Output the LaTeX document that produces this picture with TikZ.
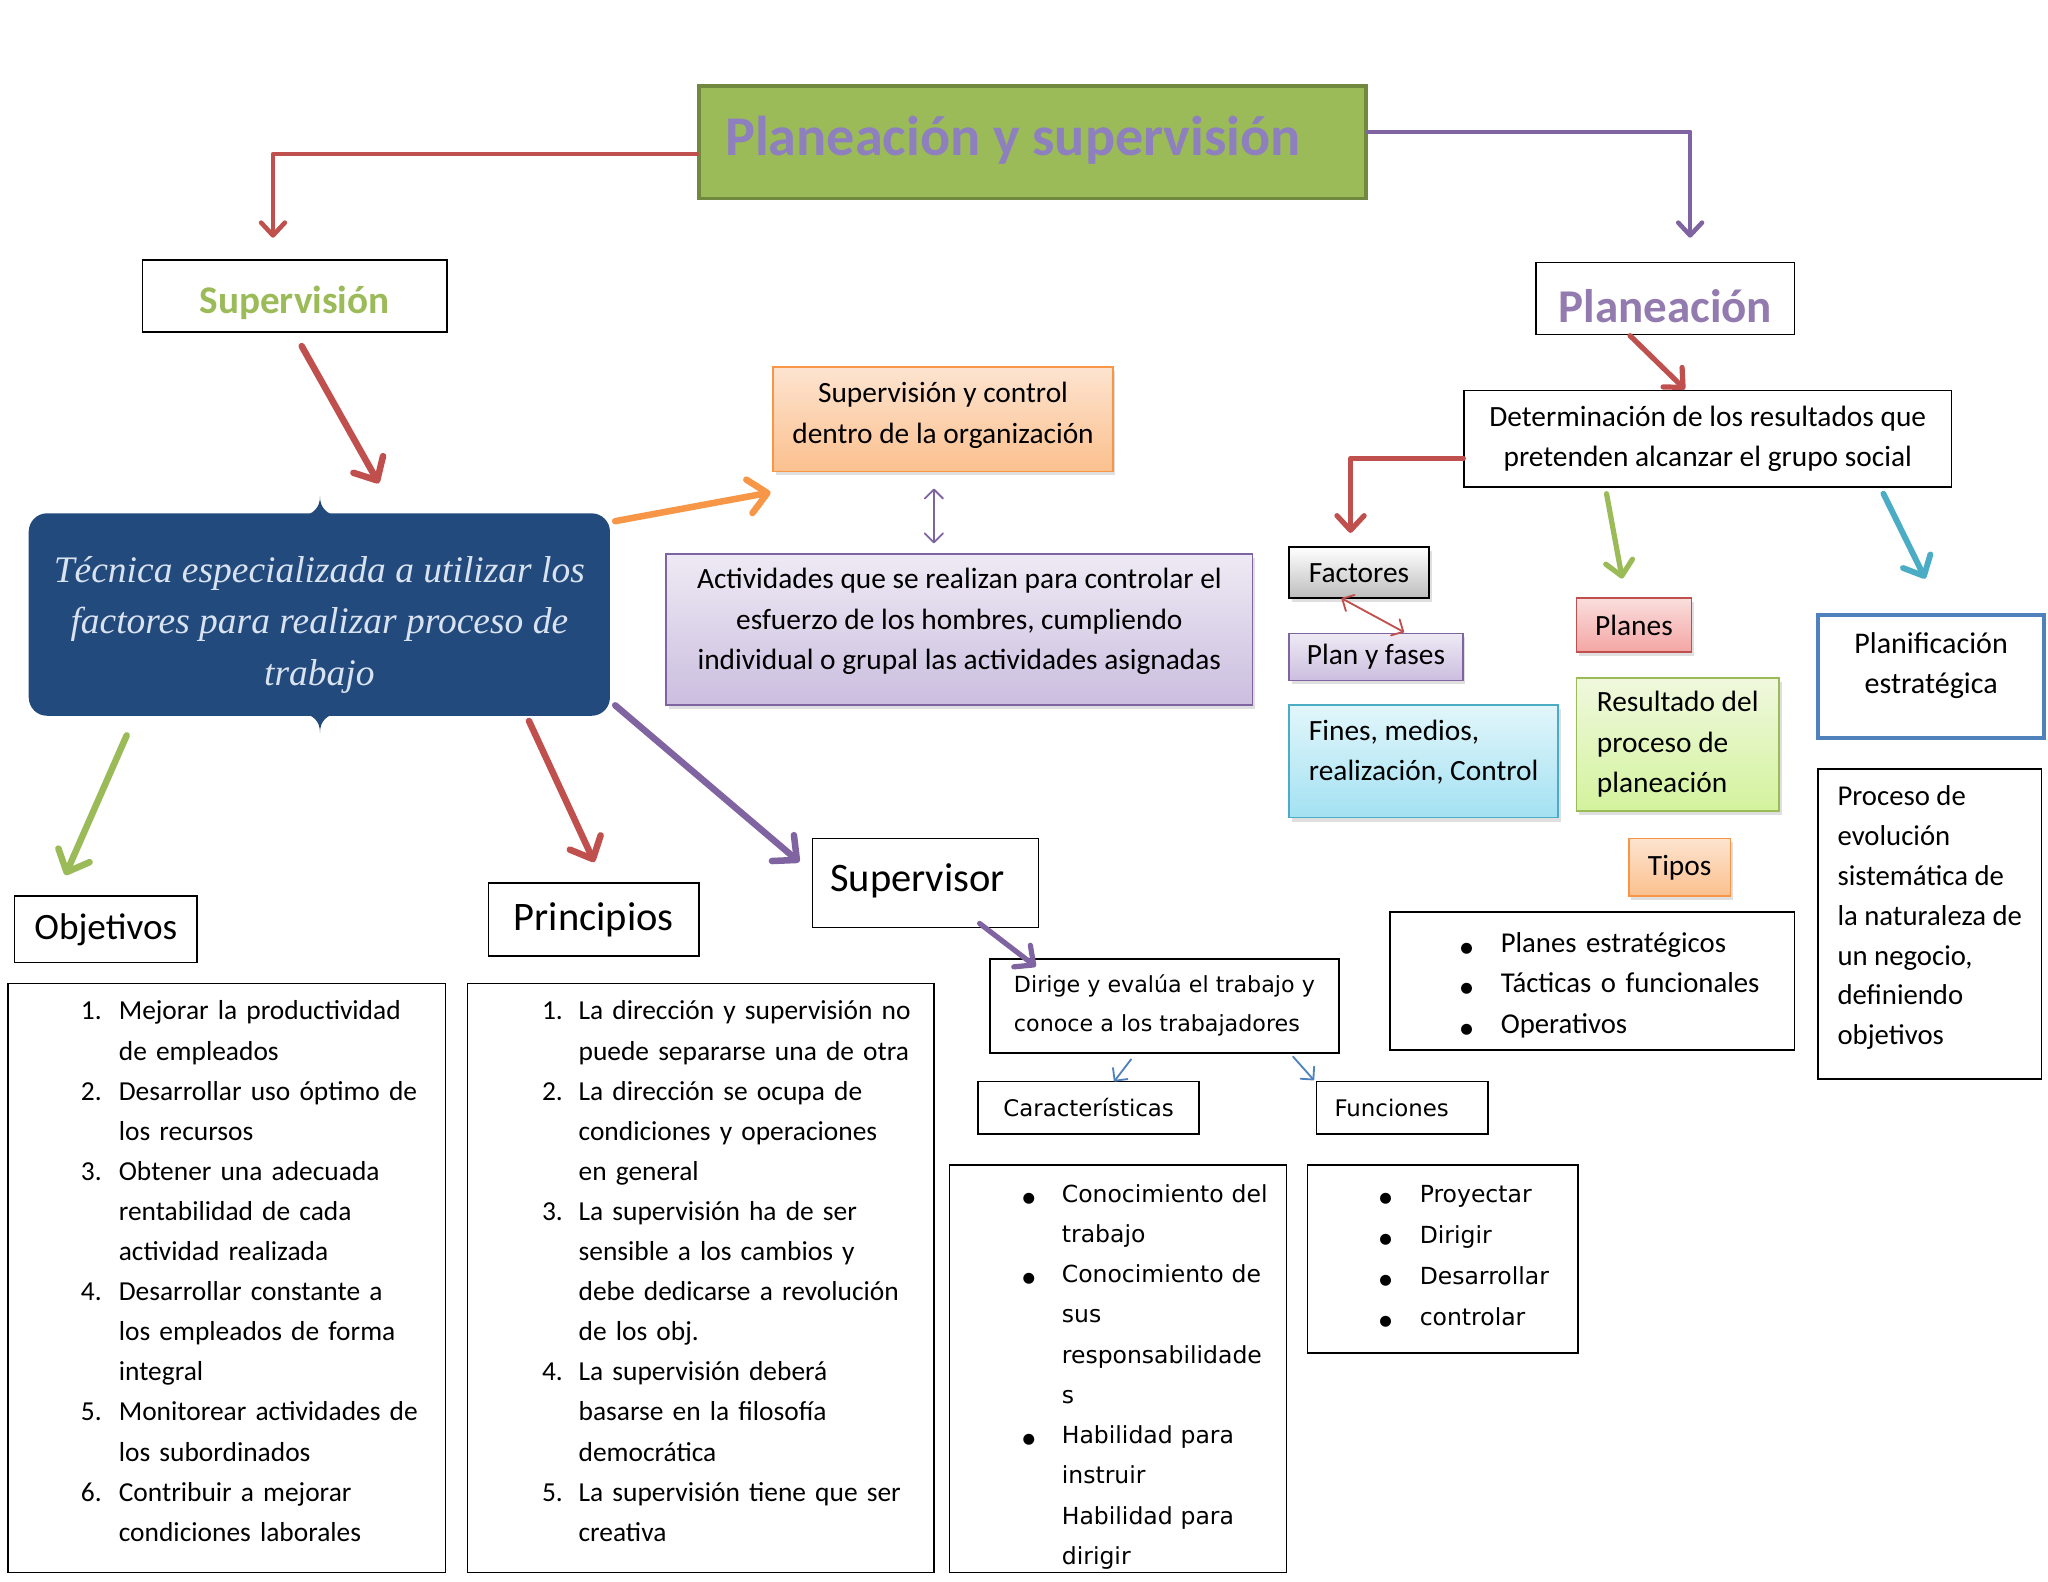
\documentclass[tikz,border=0pt]{standalone}
\usepackage{fontspec}
\setmainfont{Carlito}
\newfontfamily\verdfont{DejaVu Sans}
\newfontfamily\cambfont{Liberation Serif}
\usetikzlibrary{arrows.meta}
\usetikzlibrary{shadows}
\usetikzlibrary{positioning}

\definecolor{offred}{HTML}{C0504D}
\definecolor{offgreen}{HTML}{9BBB59}
\definecolor{offpurple}{HTML}{8064A2}
\definecolor{offorange}{HTML}{F79646}
\definecolor{offblue}{HTML}{4F81BD}
\definecolor{offcyan}{HTML}{4BACC6}
\definecolor{titleedge}{HTML}{71893F}
\definecolor{titletxt}{HTML}{8E80BE}
\definecolor{navy}{HTML}{234A7D}
\definecolor{paleblue}{HTML}{D9E3F0}
\definecolor{orangetop}{HTML}{FDE4D0}
\definecolor{orangebot}{HTML}{FBC08E}
\definecolor{lavtop}{HTML}{EEEAF4}
\definecolor{lavbot}{HTML}{CBBEDF}
\definecolor{cyantop}{HTML}{E2F6FB}
\definecolor{cyanbot}{HTML}{A3E1F2}
\definecolor{pinktop}{HTML}{F9DEDD}
\definecolor{pinkbot}{HTML}{F4A6A4}
\definecolor{limetop}{HTML}{F0F8DE}
\definecolor{limebot}{HTML}{D3F39D}
\definecolor{graybot}{HTML}{BDBDBD}

% list lines: number/bullet, then hanging text
\newcommand{\Lind}{56pt}
\newcommand{\Lgap}{29pt}
\newcommand{\itm}[2]{\mbox{\hspace*{\Lind}\makebox[\Lgap][l]{#1}#2}}
\newcommand{\cnt}[1]{\mbox{\hspace*{\Lind}\hspace*{\Lgap}#1}}
\newcommand{\blt}{{\verdfont\fontsize{11}{0}\selectfont ●}}

\begin{document}
\begin{tikzpicture}[x=1pt, y=-1pt,
    box/.style={draw, line width=1.3pt, inner sep=0pt, align=center, font=\fontsize{22.5}{31}\selectfont},
    list/.style={draw, line width=1.3pt, inner sep=0pt, align=left, font=\fontsize{21}{30.7}\selectfont},
    sz/.style 2 args={minimum width=#1pt, minimum height=#2pt},
    office/.style 2 args={top color=#1, bottom color=#2, drop shadow={opacity=0.25, shadow xshift=2pt, shadow yshift=-3pt}},
    fat/.style={line width=5pt, line cap=round, line join=round, -{Straight Barb[length=0pt 2.8, width=0pt 5.2, round]}},
    slim/.style={line width=1.4pt, line cap=round, -{Straight Barb[length=7pt, width=14pt, round]}},
    both/.style={line width=1.4pt, line cap=round, {Straight Barb[length=7pt, width=14pt, round]}-{Straight Barb[length=7pt, width=14pt, round]}}]
    \useasboundingbox (0,0) rectangle (1568,1211);

    % top
    \node[box, sz={511}{86}, fill=offgreen, draw=titleedge, line width=3pt, text=titletxt, font=\bfseries\fontsize{43}{50}\selectfont] (title) at (790.5,109) {Planeación y supervisión\hspace*{30pt}\\[-40pt]\mbox{}};
    \node[box, sz={233}{55}, text=offgreen, font=\bfseries\fontsize{30}{36}\selectfont] (supv) at (225.5,226.5) {\mbox{}\\[-3.5pt]Supervisión};
    \node[box, sz={198}{55}, text=offpurple!85!white, font=\bfseries\fontsize{36}{40}\selectfont] (plan) at (1275,228.5) {\mbox{}\\[-3pt]Planeación};

    % supervision side
    \node[fill=navy, rounded corners=14pt, sz={445}{155}, inner sep=0pt, align=center, text=paleblue, font=\cambfont\itshape\fontsize{28.7}{39.5}\selectfont] (tec) at (244.5,470.5) {\mbox{}\\[-4pt]Técnica especializada a utilizar los\\factores para realizar proceso de\\trabajo};
    \fill[navy] (231,396) .. controls (240,393) and (245,389) .. (245,380) .. controls (245,389) and (250,393) .. (259,396) -- cycle;
    \fill[navy] (231,545) .. controls (240,548) and (245,552) .. (245,561) .. controls (245,552) and (250,548) .. (259,545) -- cycle;
    \node[box, sz={260}{80}, draw=offorange, office={orangetop}{orangebot}] (ctrl) at (722,321) {Supervisión y control\\dentro de la organización\\[-21pt]\mbox{}};
    \node[box, sz={449}{116}, draw=offpurple, office={lavtop}{lavbot}] (activ) at (734.5,482) {Actividades que se realizan para controlar el\\esfuerzo de los hombres, cumpliendo\\individual o grupal las actividades asignadas\\[-15pt]\mbox{}};

    \node[box, sz={140}{51}, font=\fontsize{28.5}{32}\selectfont] (obj) at (81,711.5) {Objetivos};
    \node[box, sz={161}{56}, font=\fontsize{31}{34}\selectfont] (prin) at (454.5,704) {Principios};
    \node[box, sz={173}{68}, font=\fontsize{31}{34}\selectfont] (superv) at (708.5,676) {Supervisor\hspace*{12pt}\\[-26pt]\mbox{}};

    \node[list, sz={335}{451}, text width=335pt] (objlist) at (173.5,978.5) {%
        \itm{1.}{Mejorar la productividad}\\
        \cnt{de empleados}\\
        \itm{2.}{Desarrollar uso óptimo de}\\
        \cnt{los recursos}\\
        \itm{3.}{Obtener una adecuada}\\
        \cnt{rentabilidad de cada}\\
        \cnt{actividad realizada}\\
        \itm{4.}{Desarrollar constante a}\\
        \cnt{los empleados de forma}\\
        \cnt{integral}\\
        \itm{5.}{Monitorear actividades de}\\
        \cnt{los subordinados}\\
        \itm{6.}{Contribuir a mejorar}\\
        \cnt{condiciones laborales}\\[-20pt]
        \mbox{}};
    \node[list, sz={357}{451}, text width=357pt] (prinlist) at (536.5,978.5) {%
        \renewcommand{\Lind}{57pt}\renewcommand{\Lgap}{28pt}%
        \itm{1.}{La dirección y supervisión no}\\
        \cnt{puede separarse una de otra}\\
        \itm{2.}{La dirección se ocupa de}\\
        \cnt{condiciones y operaciones}\\
        \cnt{en general}\\
        \itm{3.}{La supervisión ha de ser}\\
        \cnt{sensible a los cambios y}\\
        \cnt{debe dedicarse a revolución}\\
        \cnt{de los obj.}\\
        \itm{4.}{La supervisión deberá}\\
        \cnt{basarse en la filosofía}\\
        \cnt{democrática}\\
        \itm{5.}{La supervisión tiene que ser}\\
        \cnt{creativa}\\[-20pt]
        \mbox{}};

    \node[box, sz={267}{72}, align=left, font=\verdfont\fontsize{17}{30}\selectfont] (dirige) at (891.5,770) {Dirige y evalúa el trabajo y\\conoce a los trabajadores};
    \node[box, sz={169}{40}, font=\verdfont\fontsize{17.5}{20}\selectfont] (carac) at (833.5,848) {Características};
    \node[box, sz={131}{40}, font=\verdfont\fontsize{17.5}{20}\selectfont] (func) at (1073.5,848) {Funciones\hspace*{16pt}};
    \node[list, sz={258}{312}, text width=258pt, font=\verdfont\fontsize{18}{30.8}\selectfont] (caraclist) at (856,1048) {%
        \renewcommand{\Lgap}{30pt}%
        \mbox{}\\[-5pt]
        \itm{\blt}{Conocimiento del}\\
        \cnt{trabajo}\\
        \itm{\blt}{Conocimiento de}\\
        \cnt{sus}\\
        \cnt{responsabilidade}\\
        \cnt{s}\\
        \itm{\blt}{Habilidad para}\\
        \cnt{instruir}\\
        \cnt{Habilidad para}\\
        \cnt{dirigir}};
    \node[list, sz={207}{144}, text width=207pt, font=\verdfont\fontsize{18}{31.5}\selectfont] (funclist) at (1104.5,964) {%
        \renewcommand{\Lind}{55pt}\renewcommand{\Lgap}{31pt}%
        \itm{\blt}{Proyectar}\\
        \itm{\blt}{Dirigir}\\
        \itm{\blt}{Desarrollar}\\
        \itm{\blt}{controlar}\\[-26pt]
        \mbox{}};

    % planeacion side
    \node[box, sz={373}{74}] (deter) at (1307.5,336) {Determinación de los resultados que\\pretenden alcanzar el grupo social};
    \node[box, sz={107}{39}, office={white}{graybot}] (fact) at (1040.5,438.5) {Factores};
    \node[box, sz={133}{36}, draw=offpurple, office={lavtop}{lavbot}] (fases) at (1053.5,503) {Plan y fases};
    \node[box, sz={206}{86}, align=left, draw=offcyan, office={cyantop}{cyanbot}] (fines) at (1090,583) {Fines, medios,\\realización, Control\\[-14pt]\mbox{}};
    \node[box, sz={88}{41}, draw=offred, office={pinktop}{pinkbot}] (planes) at (1251,478.5) {Planes};
    \node[box, sz={155}{102}, align=left, draw=offgreen, office={limetop}{limebot}] (result) at (1284.5,570) {Resultado del\\proceso de\\planeación};
    \node[box, sz={78}{44}, draw=offorange, office={orangetop}{orangebot}] (tipos) at (1286,664) {Tipos};
    \node[list, sz={310}{106}, text width=310pt, font=\fontsize{22}{31}\selectfont] (tiposlist) at (1219,751) {%
        \renewcommand{\Lind}{54pt}\renewcommand{\Lgap}{31pt}%
        \mbox{}\\[-9pt]
        \itm{\blt}{Planes estratégicos}\\
        \itm{\blt}{Tácticas o funcionales}\\
        \itm{\blt}{Operativos}};
    \node[box, sz={173}{94}, draw=offblue, line width=3.5pt, font=\fontsize{23}{31}\selectfont] (planif) at (1478.5,518) {Planificación\\estratégica\\[-10pt]\mbox{}};
    \node[box, sz={171}{237}, align=left, font=\fontsize{22}{30.5}\selectfont] (proceso) at (1477.5,707.5) {Proceso de\\evolución\\sistemática de\\la naturaleza de\\un negocio,\\definiendo\\objetivos\\[-17pt]\mbox{}};

    % arrow ends
    \coordinate (supv-in) at (209,182);
    \coordinate (plan-in) at (1294,182);
    \coordinate (supv-out) at (231,265);
    \coordinate (tec-in) at (290,370);
    \coordinate (tec-ne) at (471,399);
    \coordinate (ctrl-in) at (590,377);
    \coordinate (ctrl-out) at (715,374);
    \coordinate (activ-in) at (715,416);
    \coordinate (tec-sw) at (97,563);
    \coordinate (obj-in) at (50,670);
    \coordinate (tec-s) at (405,552);
    \coordinate (prin-in) at (455,660);
    \coordinate (tec-se) at (471,540);
    \coordinate (superv-in) at (612,660);
    \coordinate (superv-out) at (750,707);
    \coordinate (dirige-in) at (793,740);
    \coordinate (dirige-sw) at (866,811);
    \coordinate (carac-in) at (853,828);
    \coordinate (dirige-se) at (990,809);
    \coordinate (func-in) at (1006,827);
    \coordinate (plan-out) at (1248,257);
    \coordinate (deter-in) at (1290,298);
    \coordinate (fact-in) at (1034,408);
    \coordinate (deter-s) at (1230,378);
    \coordinate (planes-in) at (1242,443);
    \coordinate (deter-se) at (1442,378);
    \coordinate (planif-in) at (1474,443);
    \coordinate (fact-s) at (1027,458);
    \coordinate (fases-in) at (1075,484);

    % connectors
    \draw[fat, offred, line width=3.5pt] ([yshift=-9pt]title.west) -| (supv-in);
    \draw[fat, offpurple, line width=3.5pt] ([yshift=8pt]title.east) -| (plan-in);
    \draw[fat, offred] (supv-out) -- (tec-in);
    \draw[fat, offorange] (tec-ne) -- (ctrl-in);
    \draw[both, offpurple] (ctrl-out) -- (activ-in);
    \draw[fat, offgreen] (tec-sw) -- (obj-in);
    \draw[fat, offred] (tec-s) -- (prin-in);
    \draw[fat, offpurple] (tec-se) -- (superv-in);
    \draw[fat, offpurple, line width=4pt] (superv-out) -- (dirige-in);
    \draw[slim, offblue] (dirige-sw) -- (carac-in);
    \draw[slim, offblue] (dirige-se) -- (func-in);
    \draw[fat, offred, line width=4pt] (plan-out) -- (deter-in);
    \draw[fat, offred, line width=4pt] ([yshift=-15pt]deter.west) -| (fact-in);
    \draw[fat, offgreen, line width=4pt] (deter-s) -- (planes-in);
    \draw[fat, offcyan, line width=4.5pt] (deter-se) -- (planif-in);
    \draw[both, offred] (fact-s) -- (fases-in);
\end{tikzpicture}
\end{document}
